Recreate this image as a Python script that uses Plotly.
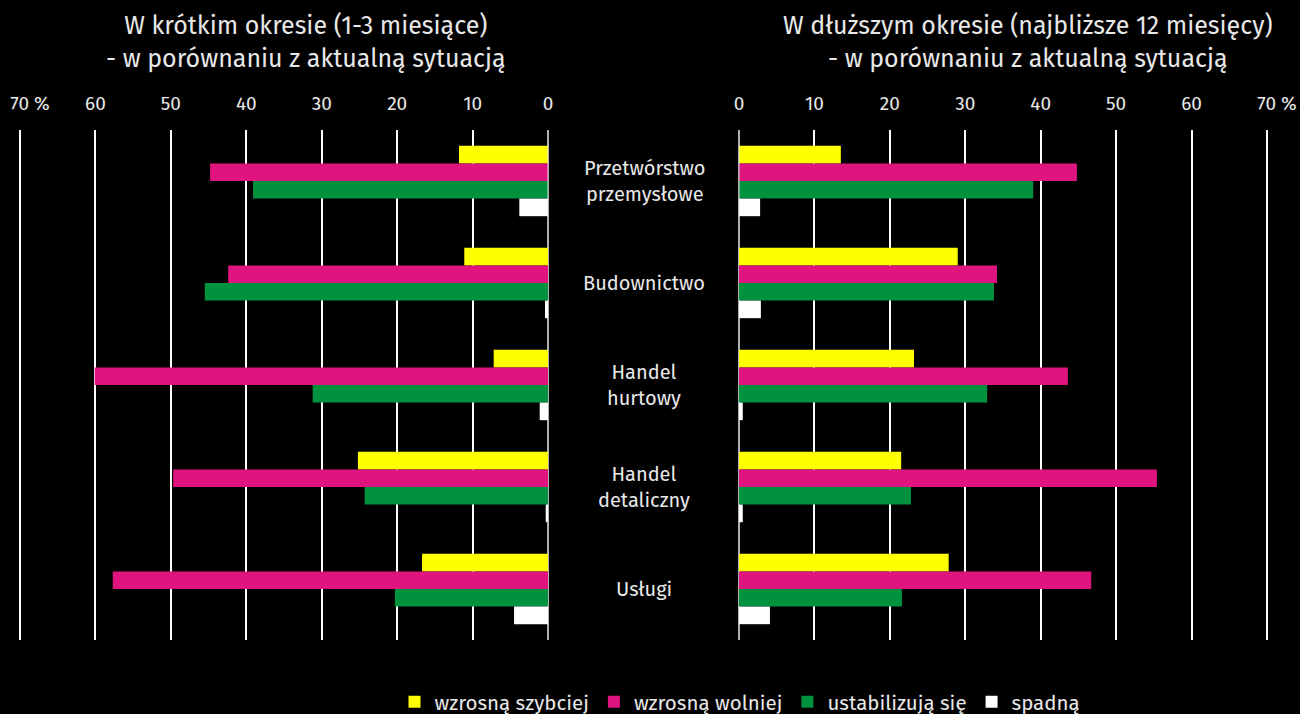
import plotly.graph_objects as go
from plotly.subplots import make_subplots

categories = ["Przetwórstwo<br>przemysłowe", "Budownictwo", "Handel<br>hurtowy",
              "Handel<br>detaliczny", "Usługi"]
series_names = ["wzrosną szybciej", "wzrosną wolniej", "ustabilizują się", "spadną"]
colors = ["#FFFF00", "#DF147F", "#00923F", "#FFFFFF"]

# short term (1-3 months)
short_fast = [11.8, 11.1, 7.2, 25.2, 16.7]
short_slow = [44.8, 42.4, 60.1, 49.7, 57.7]
short_stable = [39.1, 45.5, 31.2, 24.3, 20.3]
short_fall = [3.8, 0.4, 1.1, 0.3, 4.5]

# longer term (12 months)
long_fast = [13.5, 29.0, 23.2, 21.5, 27.8]
long_slow = [44.8, 34.2, 43.6, 55.4, 46.7]
long_stable = [39.0, 33.8, 32.9, 22.8, 21.6]
long_fall = [2.8, 2.9, 0.5, 0.5, 4.1]

tick_vals = [0, 10, 20, 30, 40, 50, 60, 70]
tick_text = ["0", "10", "20", "30", "40", "50", "60", "70 %"]

titles = ["W krótkim okresie (1-3 miesiące)<br>- w porównaniu z aktualną sytuacją",
          "W dłuższym okresie (najbliższe 12 miesięcy)<br>- w porównaniu z aktualną sytuacją"]

FONT = "Fira Sans, Open Sans, sans-serif"
TXT = "#e8e8e8"

fig = make_subplots(rows=1, cols=2)

short = [short_fast, short_slow, short_stable, short_fall]
long_ = [long_fast, long_slow, long_stable, long_fall]
for i, name in enumerate(series_names):
    fig.add_trace(go.Bar(y=categories, x=short[i], orientation="h", name=name,
                         marker=dict(color=colors[i], line=dict(width=0)),
                         legendgroup=name, showlegend=True), row=1, col=1)
for i, name in enumerate(series_names):
    fig.add_trace(go.Bar(y=categories, x=long_[i], orientation="h", name=name,
                         marker=dict(color=colors[i], line=dict(width=0)),
                         legendgroup=name, showlegend=False), row=1, col=2)

W, H = 1300, 714
PX = 528 / 70.0          # pixels per unit
EXT = 0.4                # small range extension so the 70 gridline is drawn
ydom = [1 - 640 / H, 1 - 130 / H]
base = dict(side="top", ticks="outside", ticklen=11, tickcolor="rgba(0,0,0,0)",
            tickfont=dict(family=FONT, size=19, color=TXT), showline=False,
            ticklabeloverflow="allow", automargin=False, fixedrange=True)
grid = dict(showgrid=True, gridcolor="#ffffff", gridwidth=2,
            zeroline=True, zerolinecolor="#b0b0b0", zerolinewidth=2)
left_dom = [(20 - EXT * PX) / W, 548 / W]
right_dom = [739 / W, (1267 + EXT * PX) / W]
left_rng = [70 + EXT, 0]
right_rng = [0, 70 + EXT]
fig.update_layout(
    xaxis=dict(domain=left_dom, range=left_rng, tickvals=tick_vals,
               ticktext=tick_text[:-1] + [""], **grid, **base),
    xaxis2=dict(domain=right_dom, range=right_rng, tickvals=tick_vals,
                ticktext=tick_text[:-1] + [""], **grid, **base),
    yaxis=dict(domain=ydom, autorange="reversed", showticklabels=False, showgrid=False,
               zeroline=False, automargin=False),
    yaxis2=dict(domain=ydom, autorange="reversed", showticklabels=False, showgrid=False,
                zeroline=False, automargin=False),
    # the "70 %" labels, shifted so that "70" sits over its gridline
    xaxis3=dict(domain=left_dom, range=left_rng, overlaying="x", anchor="y",
                tickvals=tick_vals[-1:], ticktext=tick_text[-1:], ticklabelshift=-10,
                showgrid=False, zeroline=False, **base),
    xaxis4=dict(domain=right_dom, range=right_rng, overlaying="x2", anchor="y2",
                tickvals=tick_vals[-1:], ticktext=tick_text[-1:], ticklabelshift=10,
                showgrid=False, zeroline=False, **base),
)
for xa, ya in (("x3", "y"), ("x4", "y2")):
    fig.add_trace(go.Bar(y=[categories[0]], x=[0], orientation="h", xaxis=xa, yaxis=ya,
                         showlegend=False, hoverinfo="skip",
                         marker=dict(color="rgba(0,0,0,0)")))

fig.update_layout(
    width=W, height=H,
    paper_bgcolor="#000000", plot_bgcolor="#000000",
    barmode="group", bargap=0.31, bargroupgap=0,
    margin=dict(l=0, r=0, t=0, b=0, autoexpand=False),
    font=dict(family=FONT, color=TXT),
    legend=dict(orientation="h", x=740 / W, xanchor="center", y=1 - 702 / H, yanchor="middle",
                font=dict(family=FONT, size=20.5, color=TXT), traceorder="normal",
                itemwidth=30, bgcolor="rgba(0,0,0,0)"),
    showlegend=True,
)

# panel titles
fig.add_annotation(text=titles[0], x=306 / W, y=1 - 42 / H, xref="paper", yref="paper",
                   xanchor="center", yanchor="middle",
                   showarrow=False, font=dict(family=FONT, size=25, color=TXT), align="center")
fig.add_annotation(text=titles[1], x=1028 / W, y=1 - 42 / H, xref="paper", yref="paper",
                   xanchor="center", yanchor="middle",
                   showarrow=False, font=dict(family=FONT, size=25, color=TXT), align="center")

# category labels in the middle
for c in categories:
    fig.add_annotation(text=c, x=644 / W, xref="paper", y=c, yref="y2", xanchor="center",
                       showarrow=False, font=dict(family=FONT, size=20, color=TXT), align="center")

fig.write_html("out.html", config={"displayModeBar": False},
               post_script="document.body.style.margin='0';document.body.style.background='#000';")
